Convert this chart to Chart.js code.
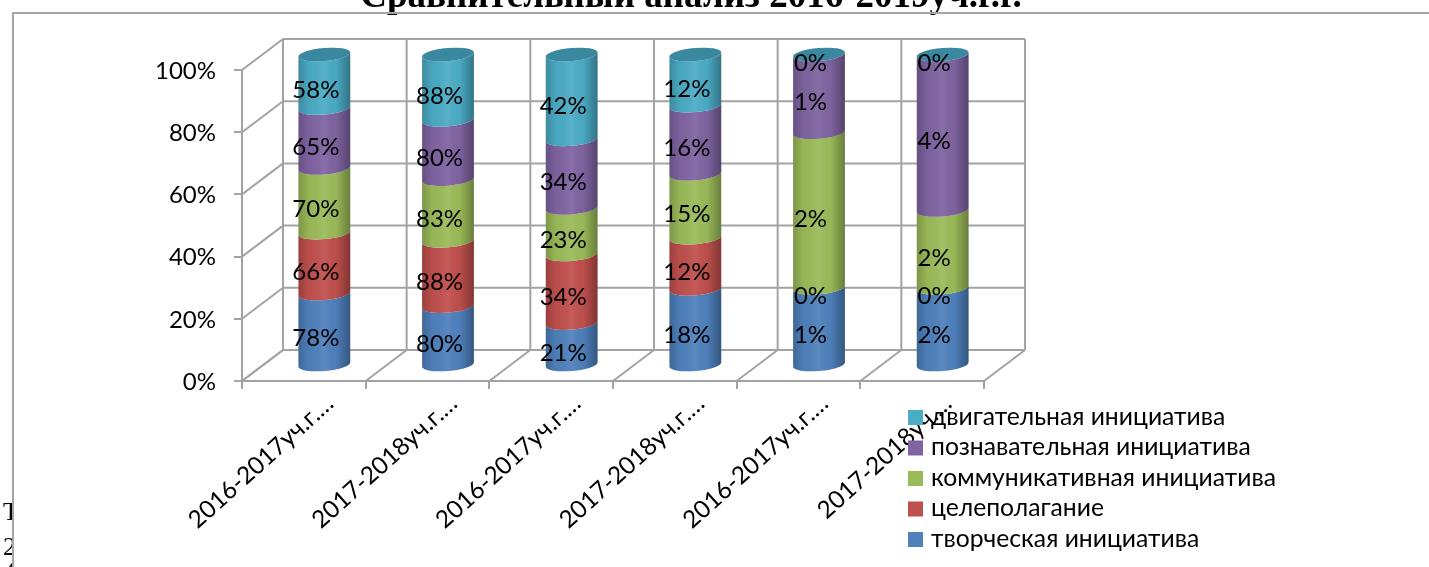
<!DOCTYPE html>
<html>
<head>
<meta charset="utf-8">
<style>
  html, body { margin: 0; padding: 0; background: #fff; overflow: hidden; }
  canvas { display: block; }
</style>
<script src="https://cdn.jsdelivr.net/npm/chart.js@4"></script>
</head>
<body>
<canvas id="chart" width="1429" height="567"></canvas>
<script>
const categories = ['2016-2017уч.г.…', '2017-2018уч.г.…', '2016-2017уч.г.…', '2017-2018уч.г.…', '2016-2017уч.г.…', '2017-2018уч.…'];
const seriesNames = ['творческая инициатива', 'целеполагание', 'коммуникативная инициатива', 'познавательная инициатива', 'двигательная инициатива'];
const seriesColors = ['#4F81BD', '#C0504D', '#9BBB59', '#8064A2', '#4BACC6'];
const capColor = '#3A87A0';

// printed labels of the source chart, the stack is normalised to 100%
const tvorcheskaya = [78, 80, 21, 18, 1, 2];
const tselepolaganie = [66, 88, 34, 12, 0, 0];
const kommunikativnaya = [70, 83, 23, 15, 2, 2];
const poznavatelnaya = [65, 80, 34, 16, 1, 4];
const dvigatelnaya = [58, 88, 42, 12, 0, 0];
const seriesValues = [tvorcheskaya, tselepolaganie, kommunikativnaya, poznavatelnaya, dvigatelnaya];

const titleText = 'Сравнительный анализ 2016-2019уч.г.г.';
const labelFont = 'Lato, "Noto Sans", sans-serif';
const gridColor = '#A3A3A3';
const depthX = 41, depthY = -31;
const tilt = -0.085, capRy = 6.5;

const totals = categories.map((c, i) => seriesValues.reduce((sum, s) => sum + s[i], 0));

function line(ctx, x1, y1, x2, y2) {
  ctx.beginPath();
  ctx.moveTo(x1, y1);
  ctx.lineTo(x2, y2);
  ctx.stroke();
}

const pagePlugin = {
  id: 'page',
  // frame, title and the cut off text beside it
  beforeDraw(chart) {
    const ctx = chart.ctx;
    ctx.save();
    ctx.fillStyle = '#000';
    ctx.textBaseline = 'alphabetic';
    ctx.textAlign = 'center';
    ctx.font = 'bold 37px "Liberation Serif", serif';
    ctx.fillText(titleText, 691, 7);
    ctx.save();
    ctx.beginPath();
    ctx.rect(0, 480, 12, 87);
    ctx.clip();
    ctx.textAlign = 'left';
    ctx.font = '26px "Liberation Serif", serif';
    ctx.fillText('Т', 3, 520);
    ctx.fillText('2', 3, 555);
    ctx.fillText('4', 3, 580);
    ctx.restore();
    ctx.strokeStyle = '#A6A6A6';
    ctx.lineWidth = 2;
    ctx.beginPath();
    ctx.moveTo(13, 567);
    ctx.lineTo(13, 13);
    ctx.lineTo(1429, 13);
    ctx.stroke();
    ctx.restore();
  },
  // walls and floor of the 3D box
  beforeDatasetsDraw(chart) {
    const ctx = chart.ctx, x = chart.scales.x, y = chart.scales.y;
    const y0 = y.getPixelForValue(0), y100 = y.getPixelForValue(100);
    ctx.save();
    ctx.strokeStyle = gridColor;
    ctx.lineWidth = 2;
    y.ticks.forEach(t => {
      const py = y.getPixelForValue(t.value);
      line(ctx, x.left, py, x.left + depthX, py + depthY);
      line(ctx, x.left + depthX, py + depthY, x.right + depthX, py + depthY);
    });
    const step = (x.right - x.left) / categories.length;
    for (let i = 0; i <= categories.length; i++) {
      const px = x.left + step * i;
      line(ctx, px, y0, px + depthX, y0 + depthY);
      line(ctx, px + depthX, y0 + depthY, px + depthX, y100 + depthY);
    }
    ctx.restore();
  },
  // native rectangles are replaced by the cylinders below
  beforeDatasetDraw() {
    return false;
  },
  afterDatasetsDraw(chart) {
    const ctx = chart.ctx;
    const count = chart.data.datasets.length;
    ctx.save();
    chart.data.datasets.forEach((ds, d) => {
      chart.getDatasetMeta(d).data.forEach(bar => drawSegment(ctx, bar, ds.backgroundColor));
    });
    chart.getDatasetMeta(count - 1).data.forEach(bar => {
      const cx = bar.x + depthX / 2, cy = bar.y + depthY / 2;
      ctx.fillStyle = capColor;
      ctx.beginPath();
      ctx.ellipse(cx, cy, bar.width / 2, capRy, tilt, 0, Math.PI * 2);
      ctx.fill();
    });
    // data labels
    ctx.fillStyle = '#000';
    ctx.font = '24px ' + labelFont;
    ctx.textAlign = 'center';
    ctx.textBaseline = 'middle';
    chart.data.datasets.forEach((ds, d) => {
      chart.getDatasetMeta(d).data.forEach((bar, i) => {
        ctx.fillText(seriesValues[d][i] + '%', bar.x + 12, (bar.y + bar.base) / 2 - 6.5);
      });
    });
    ctx.restore();
    drawLegend(ctx);
  }
};

function drawSegment(ctx, bar, color) {
  if (bar.base - bar.y < 0.5) return;
  const cx = bar.x + depthX / 2, a = bar.width / 2;
  const top = bar.y + depthY / 2, bottom = bar.base + depthY / 2;
  ctx.beginPath();
  ctx.ellipse(cx, bottom, a, capRy, tilt, Math.PI, 0, true);
  ctx.ellipse(cx, top, a, capRy, tilt, 0, Math.PI, false);
  ctx.closePath();
  ctx.fillStyle = color;
  ctx.fill();
  const shade = ctx.createLinearGradient(cx - a, 0, cx + a, 0);
  shade.addColorStop(0, 'rgba(0,0,0,0.2)');
  shade.addColorStop(0.2, 'rgba(0,0,0,0.03)');
  shade.addColorStop(0.5, 'rgba(255,255,255,0.07)');
  shade.addColorStop(0.72, 'rgba(0,0,0,0.02)');
  shade.addColorStop(1, 'rgba(0,0,0,0.33)');
  ctx.fillStyle = shade;
  ctx.fill();
}

function drawLegend(ctx) {
  ctx.save();
  ctx.font = '24.7px ' + labelFont;
  ctx.textAlign = 'left';
  ctx.textBaseline = 'middle';
  for (let i = 0; i < seriesNames.length; i++) {
    const s = seriesNames.length - 1 - i;
    const py = 417 + i * 30.5;
    ctx.fillStyle = seriesColors[s];
    ctx.fillRect(908, py - 7, 15, 15);
    ctx.fillStyle = '#000';
    ctx.fillText(seriesNames[s], 931, py);
  }
  ctx.restore();
}

new Chart(document.getElementById('chart'), {
  type: 'bar',
  plugins: [pagePlugin],
  data: {
    labels: categories,
    datasets: seriesNames.map((name, d) => ({
      label: name,
      data: seriesValues[d].map((v, i) => v / totals[i] * 100),
      backgroundColor: seriesColors[d],
      categoryPercentage: 1,
      barPercentage: 0.42,
    })),
  },
  options: {
    responsive: false,
    animation: false,
    events: [],
    layout: { padding: { top: 70, right: 445, left: 0, bottom: 0 } },
    plugins: { legend: { display: false }, title: { display: false }, tooltip: { enabled: false } },
    scales: {
      x: {
        stacked: true,
        afterFit(scale) { scale.height = 186; },
        border: { color: gridColor, width: 2 },
        grid: { drawOnChartArea: false, color: gridColor, lineWidth: 2, tickLength: 8 },
        ticks: {
          color: '#000',
          font: { family: labelFont, size: 24.3 },
          minRotation: 42,
          maxRotation: 42,
          autoSkip: false,
          padding: 0,
          labelOffset: 26,
        },
      },
      y: {
        stacked: true,
        min: 0,
        max: 100,
        afterFit(scale) { scale.width = 242; },
        border: { color: gridColor, width: 2 },
        grid: { drawOnChartArea: false, color: gridColor, lineWidth: 2, tickLength: 8 },
        ticks: {
          stepSize: 20,
          color: '#000',
          font: { family: labelFont, size: 24 },
          padding: 18,
          labelOffset: 1,
          callback: v => v + '%',
        },
      },
    },
  },
});
</script>
</body>
</html>
